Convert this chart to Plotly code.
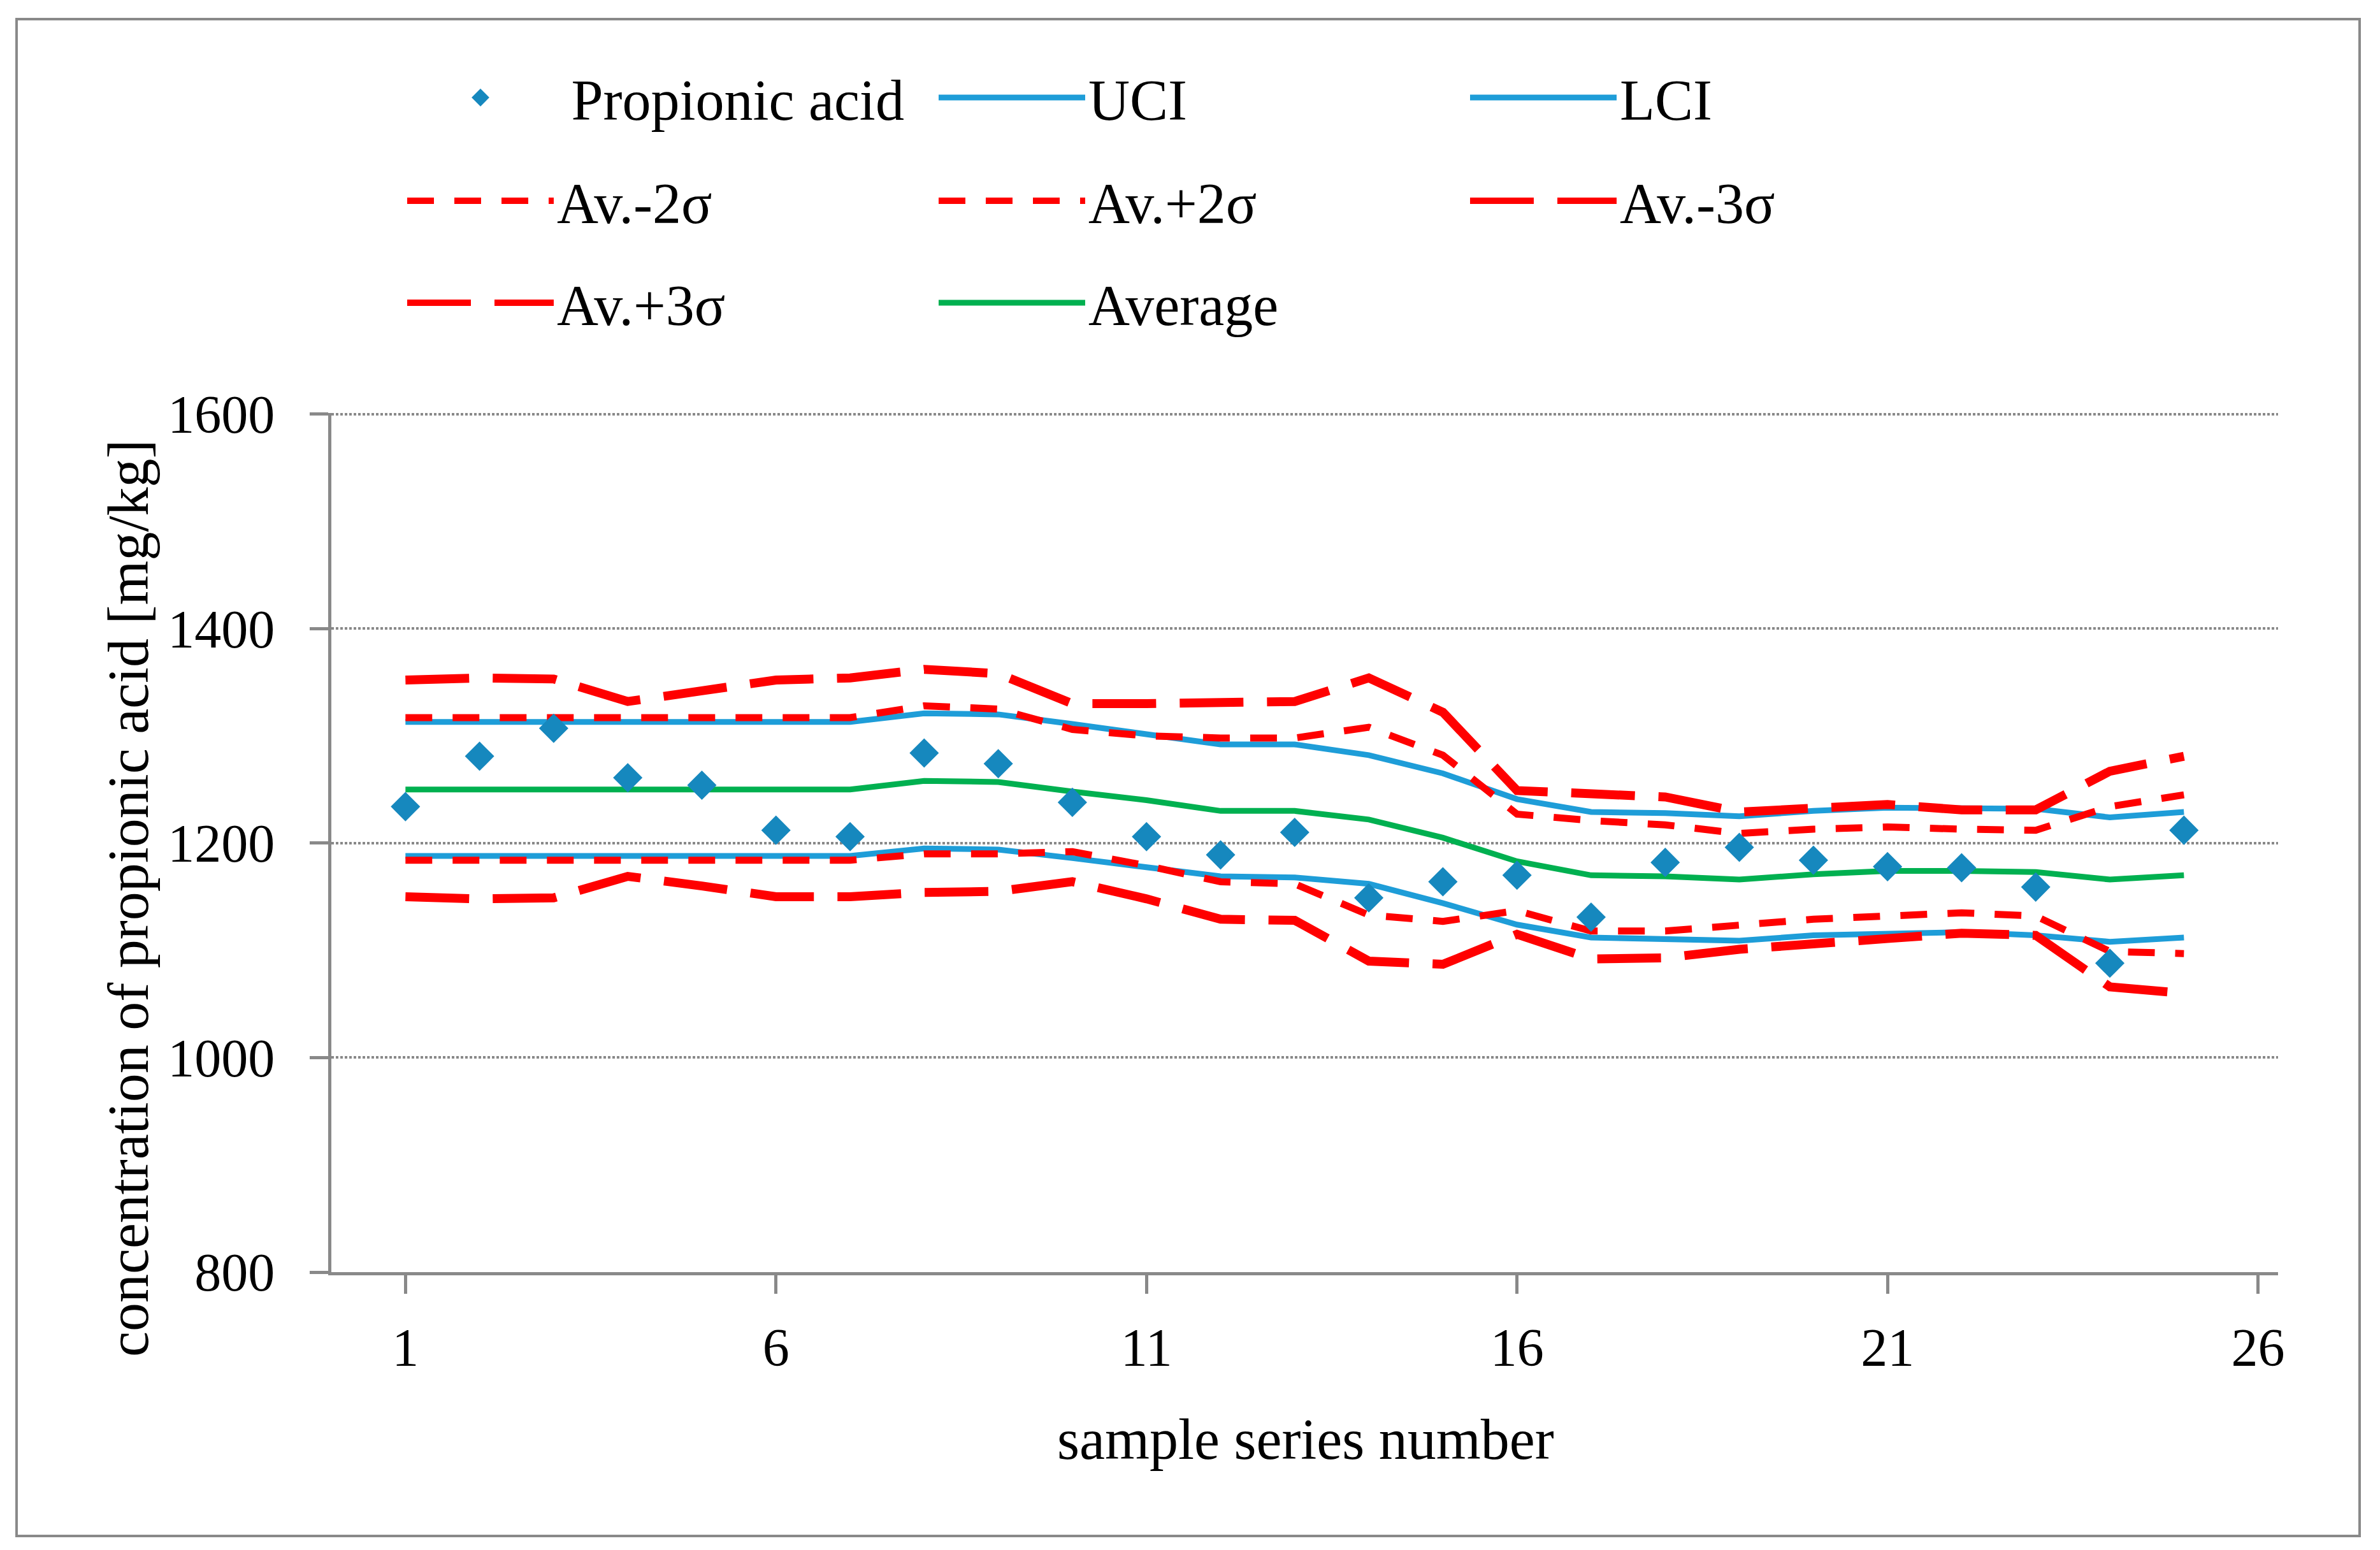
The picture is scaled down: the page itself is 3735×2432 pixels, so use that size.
import plotly.graph_objects as go

# ---------------- data ----------------
sample_no = list(range(1, 26))
propionic = [1234, 1281, 1307, 1261, 1254, 1212, 1206, 1284, 1274, 1238, 1206, 1189, 1210,
             1149, 1164, 1170, 1131, 1182, 1196, 1184, 1178, 1177, 1159, 1088, 1212]
average = [1250, 1250, 1250, 1250, 1250, 1250, 1250, 1258, 1257, 1248, 1240, 1230, 1230,
           1222, 1205, 1183, 1170, 1169, 1166, 1171, 1174, 1174, 1173, 1166, 1170]
uci = [1313, 1313, 1313, 1313, 1313, 1313, 1313, 1321, 1320, 1311, 1301, 1292, 1292,
       1282, 1265, 1241, 1229, 1228, 1225, 1230, 1233, 1233, 1232, 1224, 1229]
lci = [1188, 1188, 1188, 1188, 1188, 1188, 1188, 1195, 1194, 1186, 1177, 1169, 1168,
       1162, 1144, 1124, 1112, 1110, 1109, 1114, 1116, 1117, 1114, 1108, 1112]
av_plus2 = [1317, 1317, 1317, 1317, 1317, 1317, 1317, 1328, 1325, 1306, 1300, 1298, 1298,
            1308, 1282, 1227, 1221, 1217, 1209, 1213, 1215, 1213, 1212, 1234, 1245]
av_minus2 = [1184, 1184, 1184, 1184, 1184, 1184, 1184, 1190, 1190, 1192, 1179, 1164, 1162,
             1133, 1127, 1137, 1118, 1118, 1123, 1129, 1132, 1135, 1132, 1099, 1097]
av_plus3 = [1352, 1354, 1353, 1332, 1342, 1352, 1354, 1362, 1358, 1330, 1330, 1331, 1332,
            1354, 1322, 1249, 1246, 1243, 1229, 1232, 1236, 1231, 1231, 1267, 1281]
av_minus3 = [1150, 1148, 1149, 1169, 1160, 1150, 1150, 1154, 1155, 1164, 1148, 1129, 1128,
             1090, 1087, 1115, 1092, 1093, 1101, 1107, 1111, 1116, 1114, 1066, 1060]

x_ticks = [1, 6, 11, 16, 21, 26]
y_ticks = [800, 1000, 1200, 1400, 1600]
x_title = "sample series number"
y_title = "concentration of propionic acid [mg/kg]"

# ---------------- style ----------------
W, H = 3735, 2432
L, R, T, B = 520, 160, 648, 436
PW, PH = W - L - R, H - T - B
FONT = "Liberation Serif"
GRAY = "#898989"
BLUE_LINE = "#1E9DD8"
BLUE_MARK = "#1688BE"
GREEN = "#00B050"
RED = "#FF0000"
SHORT_DASH = "42px,32px"
LONG_DASH = "100px,37px"
ITEM_W = 230
COL_STEP = 838


def px_x(X):
    return (X - L) / PW


def px_y(Y):
    return (H - B - Y) / PH


fig = go.Figure()

series = [
    ("UCI", uci, BLUE_LINE, 9, "solid", "legend", 2),
    ("LCI", lci, BLUE_LINE, 9, "solid", "legend", 3),
    ("Av.-2σ", av_minus2, RED, 11, SHORT_DASH, "legend2", 4),
    ("Av.+2σ", av_plus2, RED, 11, SHORT_DASH, "legend2", 5),
    ("Av.-3σ", av_minus3, RED, 14, LONG_DASH, "legend2", 6),
    ("Av.+3σ", av_plus3, RED, 14, LONG_DASH, "legend3", 7),
    ("Average", average, GREEN, 9, "solid", "legend3", 8),
]
for name, vals, col, w, dash, leg, rank in series:
    fig.add_trace(go.Scatter(
        x=sample_no, y=vals, name=name, mode="lines",
        line=dict(color=col, width=w, dash=dash),
        legend=leg, legendrank=rank,
    ))

fig.add_trace(go.Scatter(
    x=sample_no, y=propionic, name="\u00a0Propionic acid", mode="markers",
    marker=dict(symbol="diamond", size=30, color=BLUE_MARK,
                line=dict(width=5, color=BLUE_MARK)),
    legend="legend", legendrank=1,
))

leg_common = dict(
    orientation="h", font=dict(family=FONT, size=90, color="black"),
    bgcolor="rgba(0,0,0,0)", borderwidth=0,
    entrywidth=COL_STEP - ITEM_W - 19, entrywidthmode="pixels", itemwidth=ITEM_W,
    xanchor="left", yanchor="middle", x=px_x(634), traceorder="normal",
)

fig.update_layout(
    width=W, height=H,
    margin=dict(l=L, r=R, t=T, b=B, autoexpand=False),
    paper_bgcolor="white", plot_bgcolor="white",
    font=dict(family=FONT, color="black"),
    showlegend=True,
    legend=dict(leg_common, y=px_y(153)),
    legend2=dict(leg_common, y=px_y(315)),
    legend3=dict(leg_common, y=px_y(475)),
    xaxis=dict(
        range=[0, 26.27], tickmode="array", tickvals=x_ticks,
        ticktext=[str(v) for v in x_ticks],
        showgrid=False, zeroline=False,
        showline=True, linecolor=GRAY, linewidth=5,
        ticks="outside", ticklen=29, tickwidth=5, tickcolor=GRAY,
        tickfont=dict(family=FONT, size=84, color="black"),
        ticklabelstandoff=12,
    ),
    yaxis=dict(
        range=[800, 1601], tickmode="array", tickvals=y_ticks,
        ticktext=[str(v) for v in y_ticks],
        showgrid=True, gridcolor=GRAY, gridwidth=4, griddash="4px,3px",
        zeroline=False,
        showline=True, linecolor=GRAY, linewidth=5,
        ticks="outside", ticklen=29, tickwidth=5, tickcolor=GRAY,
        tickfont=dict(family=FONT, size=84, color="black"),
        ticklabelstandoff=38,
    ),
    annotations=[
        dict(text=x_title, xref="paper", yref="paper", x=px_x(2049), y=px_y(2258),
             xanchor="center", yanchor="middle", showarrow=False,
             font=dict(family=FONT, size=90, color="black")),
        dict(text=y_title, xref="paper", yref="paper", x=px_x(201), y=px_y(1409),
             xanchor="center", yanchor="middle", showarrow=False, textangle=-90,
             font=dict(family=FONT, size=90, color="black")),
    ],
    shapes=[
        dict(type="rect", xref="paper", yref="paper",
             x0=px_x(26), x1=px_x(3703), y0=px_y(2410), y1=px_y(30),
             line=dict(color=GRAY, width=4), fillcolor="rgba(0,0,0,0)", layer="below"),
    ],
)

fig.write_html("out.html", config={"displayModeBar": False},
               post_script="document.body.style.margin='0';document.body.style.overflow='hidden';")
